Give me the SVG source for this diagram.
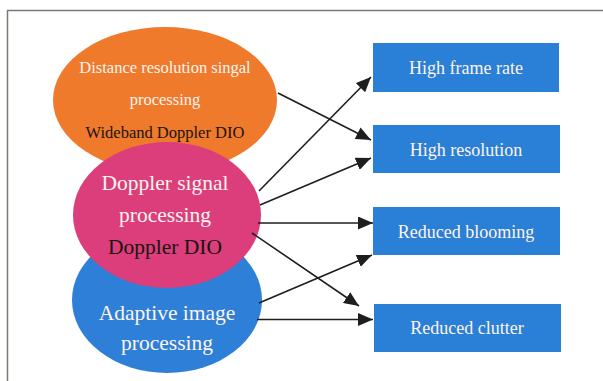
<svg xmlns="http://www.w3.org/2000/svg" width="603" height="381" viewBox="0 0 603 381">
<defs>
<style>
.frame{stroke:#807870;stroke-width:1.5;fill:none}
.box{fill:#2a7fd6}
.lbl{font-family:"Liberation Serif","Times New Roman",serif;text-anchor:middle}
.w{fill:#fff4ee}
.k{fill:#1a1410}
.s{font-size:16.5px}
.b{font-size:21.5px}
.bx{font-size:18px}
.conn line{stroke:#1e1e1e;stroke-width:1.6;marker-end:url(#ah)}
</style>
<marker id="ah" markerUnits="userSpaceOnUse" markerWidth="15" markerHeight="13" refX="15" refY="6.5" orient="auto" viewBox="0 0 15 13">
<path d="M0,0 L15,6.5 L0,13 z" fill="#1e1e1e"/>
</marker>
</defs>
<rect width="603" height="381" fill="#fff"/>
<line class="frame" x1="7" y1="10.5" x2="603" y2="10.5"/>
<line class="frame" x1="7.5" y1="10" x2="7.5" y2="381"/>

<g id="n_blue">
<ellipse cx="167" cy="300" rx="95" ry="73" fill="#2d7fd8"/>
<text class="lbl w b" x="167" y="320">Adaptive image</text>
<text class="lbl w b" x="167" y="350">processing</text>
</g>
<g id="n_orange">
<ellipse cx="165" cy="100" rx="112" ry="73" fill="#f07a2c"/>
<text class="lbl w s" x="165" y="73">Distance resolution singal</text>
<text class="lbl w s" x="165" y="105">processing</text>
<text class="lbl k s" x="165" y="138">Wideband Doppler DIO</text>
</g>
<g id="n_pink">
<ellipse cx="167" cy="215" rx="94" ry="73" fill="#dc3e7c"/>
<text class="lbl w b" x="165" y="190">Doppler signal</text>
<text class="lbl w b" x="165" y="222">processing</text>
<text class="lbl k b" x="165" y="254">Doppler DIO</text>
</g>

<g id="b_frame">
<rect class="box" x="373" y="43" width="186" height="49"/>
<text class="lbl w bx" x="466" y="74">High frame rate</text>
</g>
<g id="b_res">
<rect class="box" x="373" y="125" width="187" height="48"/>
<text class="lbl w bx" x="466" y="156">High resolution</text>
</g>
<g id="b_bloom">
<rect class="box" x="373" y="207" width="187" height="48"/>
<text class="lbl w bx" x="466" y="238">Reduced blooming</text>
</g>
<g id="b_clutter">
<rect class="box" x="374" y="304" width="187" height="48"/>
<text class="lbl w bx" x="467" y="334">Reduced clutter</text>
</g>

<g id="connectors" class="conn">
<line x1="278" y1="93" x2="371" y2="140"/>
<line x1="259" y1="191" x2="371" y2="77"/>
<line x1="260" y1="205" x2="371" y2="158"/>
<line x1="258" y1="223" x2="373" y2="223"/>
<line x1="252" y1="233" x2="359" y2="306"/>
<line x1="259" y1="303" x2="372" y2="255"/>
<line x1="257" y1="319.5" x2="373" y2="319.5"/>
</g>
</svg>
